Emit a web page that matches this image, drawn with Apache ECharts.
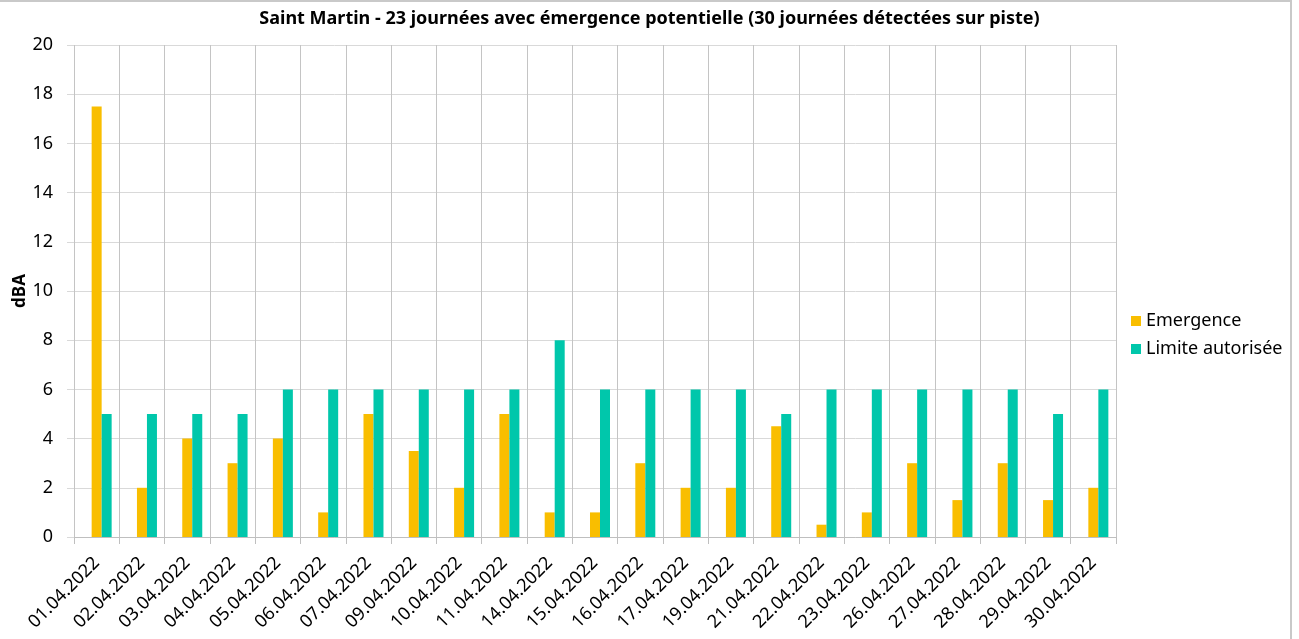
<!DOCTYPE html>
<html>
<head>
<meta charset="utf-8">
<script src="https://cdn.jsdelivr.net/npm/echarts@6/dist/echarts.min.js"></script>
<style>
html,body{margin:0;padding:0;background:#fff;overflow:hidden;}
#c{position:absolute;left:0;top:0;width:1299px;height:639px;}
#frame{position:absolute;left:0;top:0;width:1290px;height:660px;border-top:2px solid #c9c9c9;border-right:2px solid #c9c9c9;pointer-events:none;}
</style>
</head>
<body>
<div id="c"></div>
<div id="frame"></div>
<script>
const titleText = 'Saint Martin - 23 journées avec émergence potentielle (30 journées détectées sur piste)';
const categories = ['01.04.2022','02.04.2022','03.04.2022','04.04.2022','05.04.2022','06.04.2022','07.04.2022','09.04.2022','10.04.2022','11.04.2022','14.04.2022','15.04.2022','16.04.2022','17.04.2022','19.04.2022','21.04.2022','22.04.2022','23.04.2022','26.04.2022','27.04.2022','28.04.2022','29.04.2022','30.04.2022'];
const emergence = [17.5,2,4,3,4,1,5,3.5,2,5,1,1,3,2,2,4.5,0.5,1,3,1.5,3,1.5,2];
const limite = [5,5,5,5,6,6,6,6,6,6,8,6,6,6,6,5,6,6,6,6,6,5,6];
const emptySlot = categories.map(() => null);

const FONT = 'Noto Sans';
const chart = echarts.init(document.getElementById('c'), null, {renderer:'canvas'});
chart.setOption({
  animation:false,
  backgroundColor:'#ffffff',
  textStyle:{fontFamily:FONT},
  title:{
    text:titleText, left:'center', top:5,
    textStyle:{fontFamily:FONT, fontWeight:'bold', fontSize:18, color:'#000'}
  },
  legend:{
    data:['Emergence','Limite autorisée'],
    orient:'vertical', left:1126, top:307,
    itemWidth:10, itemHeight:10, itemGap:10,
    icon:'rect',
    textStyle:{fontFamily:FONT, fontSize:18, color:'#000'}
  },
  grid:{left:74, right:183, top:45, bottom:102, containLabel:false, outerBoundsMode:'none'},
  xAxis:{
    type:'category', data:categories, boundaryGap:true,
    axisLine:{show:true, lineStyle:{color:'#bfbfbf'}},
    axisTick:{show:true, length:7, lineStyle:{color:'#bfbfbf'}},
    splitLine:{show:true, interval:0, lineStyle:{color:'#c4c4c4'}},
    axisLabel:{rotate:45, interval:0, margin:23, fontFamily:FONT, fontSize:18, color:'#000'}
  },
  yAxis:{
    type:'value', min:0, max:20, interval:2,
    name:'dBA', nameLocation:'middle', nameGap:45, nameRotate:90, nameMoveOverlap:false,
    nameTextStyle:{fontFamily:FONT, fontWeight:'bold', fontSize:17, color:'#000'},
    axisLine:{show:false},
    axisTick:{show:true, length:7, lineStyle:{color:'#d9d9d9'}},
    splitLine:{show:true, lineStyle:{color:'#d9d9d9'}},
    axisLabel:{margin:21, fontFamily:FONT, fontSize:18, color:'#000'}
  },
  series:[
    {name:'', type:'bar', data:emptySlot, barWidth:10, barGap:'0%'},
    {name:'Emergence', type:'bar', data:emergence, barWidth:10, barGap:'0%', itemStyle:{color:'#F9BE00'}},
    {name:'Limite autorisée', type:'bar', data:limite, barWidth:10, barGap:'0%', itemStyle:{color:'#00C7AB'}}
  ]
});
</script>
</body>
</html>
